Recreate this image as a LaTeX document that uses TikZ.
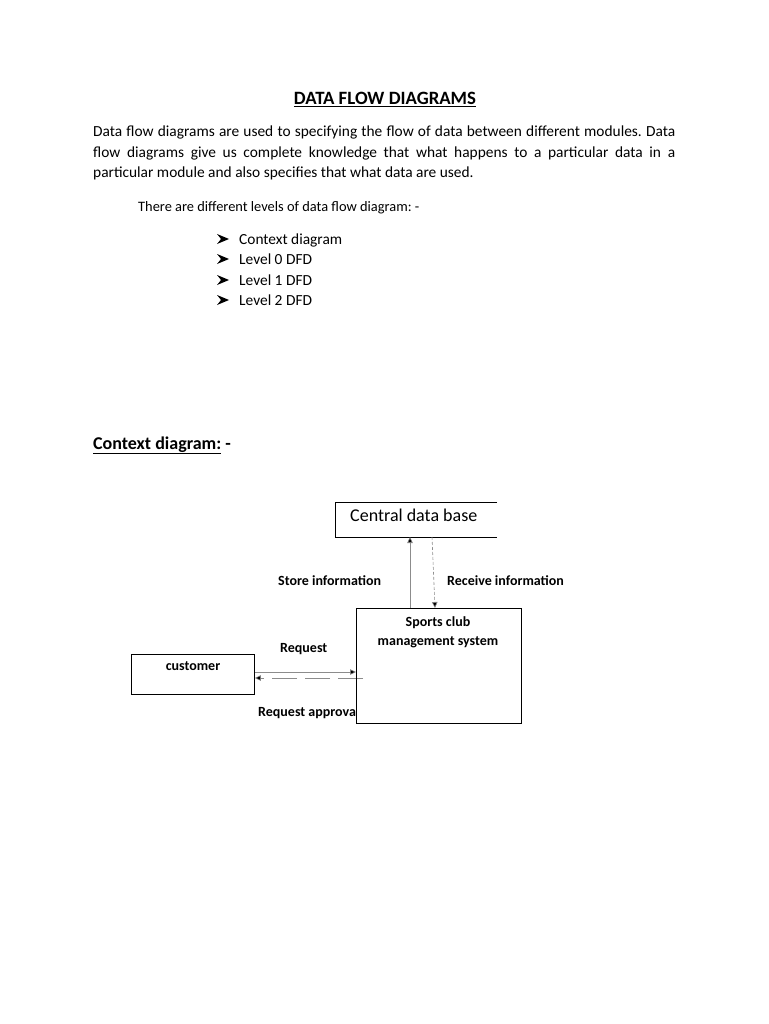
\documentclass[tikz,border=0pt]{standalone}
\usepackage{fontspec}
\setmainfont{Carlito}
\frenchspacing
\usetikzlibrary{arrows.meta}
\tikzset{
  body/.style={font=\fontsize{15.4}{18}\selectfont, inner sep=0pt, anchor=base west},
  lbl/.style={font=\fontsize{14}{16}\selectfont\bfseries, inner sep=0pt},
  box/.style={draw=black, line width=0.9pt, fill=white},
  flow/.style={draw=black!45, line width=0.6pt},
  tip/.style={-{Triangle[length=6pt,width=5.5pt,fill=black]}},
  bulletmark/.style={fill=black}
}
\begin{document}
\begin{tikzpicture}[x=1pt,y=-1pt]
\useasboundingbox[fill=white] (0,0) rectangle (768,1024);
% title
\node[font=\fontsize{18.8}{22}\selectfont\bfseries, inner sep=0pt, anchor=base] (title) at (385,105) {\underline{DATA FLOW DIAGRAMS}};
% paragraph
\node[body] (p1) at (93,137) {\makebox[582pt][s]{Data flow diagrams are used to specifying the flow of data between different modules. Data}};
\node[body] (p2) at (93,158) {\makebox[582pt][s]{flow diagrams give us complete knowledge that what happens to a particular data in a}};
\node[body] (p3) at (93,178) {particular module and also specifies that what data are used.};
\node[body, font=\fontsize{14.4}{17}\selectfont] (lv) at (138,212) {There are different levels of data flow diagram: -};
% bullets
\foreach \yy/\tx [count=\i] in {244/Context diagram,264/Level 0 DFD,285/Level 1 DFD,305/Level 2 DFD}{
  \fill[bulletmark] (217,\yy-10) -- (229,\yy-5) -- (217,\yy) -- (221,\yy-5) -- cycle;
  \node[body] (b\i) at (239,\yy) {\tx};
}
% context heading
\node[font=\fontsize{18}{21}\selectfont\bfseries, inner sep=0pt, anchor=base west] (ctx) at (93,449) {\underline{Context diagram:} -};
% central data base (open right side)
\fill[white] (335,502) rectangle (497,537);
\draw[line width=0.9pt] (497,502) -- (335,502) -- (335,537) -- (497,537);
\node[font=\fontsize{18}{21}\selectfont, inner sep=0pt, anchor=base west] (cdbtxt) at (350,521) {Central data base};
% sports club
\node[box, minimum width=165pt, minimum height=115pt, anchor=north west] (scm) at (356,608) {};
\node[lbl, anchor=base] (scm1) at (438,626) {Sports club};
\node[lbl, anchor=base] (scm2) at (438,645) {management system};
% customer
\node[box, minimum width=123pt, minimum height=40pt, anchor=north west] (cust) at (131,654) {};
\node[lbl, anchor=base] (custtxt) at (193,670) {customer};
% flows to database
\draw[flow, tip] (scm.north -| 410,0) -- (410,537);
\draw[flow, dash pattern=on 3pt off 2pt, tip] (432,537) -- (435,608);
\node[lbl, anchor=base west] (store) at (278,585) {Store information};
\node[lbl, anchor=base west] (recv) at (447,585) {Receive information};
% flows customer <-> system
\draw[flow, tip] (cust.east |- 0,672) -- (scm.west |- 0,672);
\draw[flow, dash pattern=on 25pt off 8pt, tip] (363,678) -- (cust.east |- 0,678);
\node[lbl, anchor=base west] (req) at (280,652) {Request};
\begin{scope}
\clip (250,695) rectangle (355.5,725);
\node[lbl, anchor=base west] (reqa) at (258,716) {Request approval};
\end{scope}
\draw[line width=0.9pt] (356,608) -- (356,723);
\end{tikzpicture}
\end{document}
